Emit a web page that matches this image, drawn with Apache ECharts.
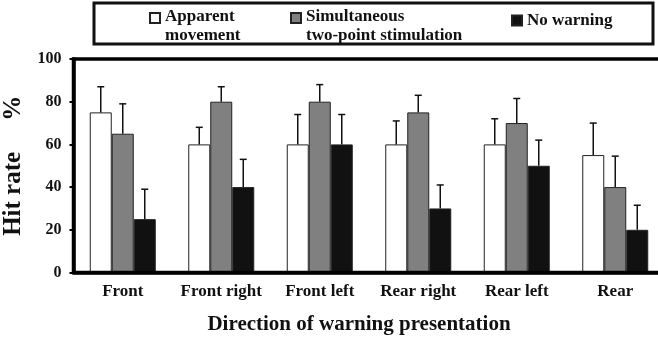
<!DOCTYPE html>
<html>
<head>
<meta charset="utf-8">
<script src="https://cdn.jsdelivr.net/npm/echarts@6/dist/echarts.min.js"></script>
<style>
html, body { margin: 0; padding: 0; background: #fff; }
#main { width: 658px; height: 342px; }
</style>
</head>
<body>
<div id="main"></div>
<script>
var directions = ['Front', 'Front right', 'Front left', 'Rear right', 'Rear left', 'Rear'];
var apparent = [75, 60, 60, 60, 60, 55];
var apparentErr = [87, 68, 74, 71, 72, 70];
var simultaneous = [65, 80, 80, 75, 70, 40];
var simultaneousErr = [79, 87, 88, 83, 81.5, 54.5];
var noWarning = [25, 40, 60, 30, 50, 20];
var noWarningErr = [39, 53, 74, 41, 62, 31.5];
var yTicks = [0, 20, 40, 60, 80, 100];

var font = "'Liberation Serif', 'Times New Roman', serif";
var names = ['Apparent movement', 'Simultaneous two-point stimulation', 'No warning'];
var legendText = {
    'Apparent movement': 'Apparent\nmovement',
    'Simultaneous two-point stimulation': 'Simultaneous\ntwo-point stimulation',
    'No warning': 'No warning'
};
var colors = ['#ffffff', '#808080', '#111111'];
var barW = 22;

function errSeries(idx, vals, tops) {
    return {
        type: 'custom',
        z: 5,
        data: vals.map(function (v, i) { return [i, v, tops[i]]; }),
        renderItem: function (params, api) {
            var lo = api.coord([api.value(0), api.value(1)]);
            var hi = api.coord([api.value(0), api.value(2)]);
            var x = lo[0] + (idx - 1) * barW;
            return {
                type: 'group',
                children: [
                    { type: 'line', shape: { x1: x, y1: lo[1], x2: x, y2: hi[1] }, style: { stroke: '#111', lineWidth: 1.5 } },
                    { type: 'line', shape: { x1: x - 3.5, y1: hi[1], x2: x + 3.5, y2: hi[1] }, style: { stroke: '#111', lineWidth: 1.5 } }
                ]
            };
        }
    };
}

// plot frame: left, top and bottom edges of the grid
var frameSeries = {
    type: 'custom',
    z: 10,
    silent: true,
    data: [[0, 0]],
    renderItem: function (params, api) {
        var c = params.coordSys;
        return {
            type: 'polyline',
            shape: { points: [[c.x + c.width, c.y + c.height], [c.x, c.y + c.height], [c.x, c.y], [c.x + c.width, c.y]] },
            style: { fill: 'none', stroke: '#000', lineWidth: 3.5 }
        };
    }
};

function barSeries(idx, vals) {
    return {
        name: names[idx],
        type: 'bar',
        data: vals,
        barWidth: barW,
        barGap: '0%',
        itemStyle: { color: colors[idx], borderColor: '#222', borderWidth: 1 }
    };
}

var legendFont = { fontFamily: font, fontWeight: 'bold', fontSize: 17, lineHeight: 19, color: '#111' };

function legendAt(idx, left) {
    return {
        data: [names[idx]],
        left: left,
        top: 7,
        padding: 0,
        itemWidth: 10,
        itemHeight: 26,
        icon: 'path://M0,0h10v10h-10zM0,26',
        formatter: function (n) { return legendText[n]; },
        textStyle: legendFont
    };
}

var chart = echarts.init(document.getElementById('main'));
chart.setOption({
    animation: false,
    graphic: [{
        type: 'rect',
        shape: { x: 94, y: 3, width: 559, height: 41 },
        style: { fill: 'none', stroke: '#111', lineWidth: 3 }
    }],
    legend: [
        legendAt(0, 149),
        legendAt(1, 290),
        {
            data: [names[2]], left: 511, top: 11, padding: 0,
            itemWidth: 10, itemHeight: 10, icon: 'rect',
            textStyle: legendFont
        }
    ],
    grid: { left: 73.5, right: -6.5, top: 59, bottom: 69.5, outerBoundsMode: 'none' },
    xAxis: {
        type: 'category',
        data: directions,
        name: 'Direction of warning presentation',
        nameLocation: 'middle',
        nameGap: 42,
        nameTextStyle: { fontFamily: font, fontWeight: 'bold', fontSize: 21, color: '#111', padding: [0, 20, 0, 0] },
        axisLine: { onZero: false, lineStyle: { color: '#000', width: 3.5 } },
        axisTick: { length: 4, lineStyle: { color: '#000', width: 2 } },
        axisLabel: { interval: 0, fontFamily: font, fontWeight: 'bold', fontSize: 17, color: '#111', margin: 11 }
    },
    yAxis: {
        type: 'value',
        min: yTicks[0],
        max: yTicks[yTicks.length - 1],
        interval: 20,
        name: 'Hit rate     %',
        nameLocation: 'middle',
        nameGap: 47,
        nameTextStyle: { fontFamily: font, fontWeight: 'bold', fontSize: 25, color: '#111' },
        splitLine: { show: false },
        axisLine: { show: true, lineStyle: { color: '#000', width: 3.5 } },
        axisTick: { show: true, length: 4, lineStyle: { color: '#000', width: 2 } },
        axisLabel: { fontFamily: font, fontWeight: 'bold', fontSize: 16, color: '#111', margin: 12 }
    },
    series: [
        barSeries(0, apparent),
        barSeries(1, simultaneous),
        barSeries(2, noWarning),
        errSeries(0, apparent, apparentErr),
        errSeries(1, simultaneous, simultaneousErr),
        errSeries(2, noWarning, noWarningErr),
        frameSeries
    ]
});
</script>
</body>
</html>
